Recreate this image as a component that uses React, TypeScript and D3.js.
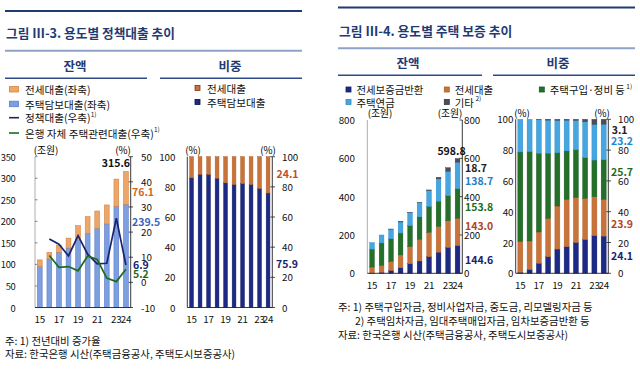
import React from 'react';
import * as d3 from 'd3';

// ---------- data ----------
const years = ['15', '16', '17', '18', '19', '20', '21', '22', '23', '24'];
const tickYears = ['15', '17', '19', '21', '23', '24'];

// 용도별 정책대출 (조원)
const policyMortgage = [95, 113, 128, 138, 157, 172, 184, 194, 235, 239.5]; // 주택담보대출
const policyJeonse = [15.5, 15, 17, 23, 33, 39, 40, 44, 63, 76.1]; // 전세대출
// 증가율 (%)
const policyGrowth: (number | null)[] = [null, 17.3, 15.2, 10.5, 18.6, 11.2, 7.4, 7.6, 25.5, 6.9];
const bankGrowth: (number | null)[] = [null, 10.7, 6.0, 6.3, 4.6, 10.5, 9.1, 1.7, 0.3, 5.2];

// 용도별 주택 보증 (조원)
const guarReturn = [1, 5, 15, 29, 50, 64, 87, 110, 135, 144.6]; // 전세보증금반환
const guarJeonse = [32, 37, 47, 67, 89, 114, 127, 134, 139, 143.0]; // 전세대출
const guarPurchase = [93, 116, 118, 114, 110, 116, 135, 132, 131, 153.8]; // 주택구입·정비 등
const guarPension = [34, 42, 50.5, 58, 67, 74, 83, 117, 128, 138.7]; // 주택연금
const guarOther = [0, 0, 0.5, 1.4, 2, 2, 3, 8, 18, 18.7]; // 기타

const leftAxisTicks = [0, 50, 100, 150, 200, 250, 300, 350];
const growthTicks = [-10, 0, 10, 20, 30, 40, 50];
const pctTicks = [0, 20, 40, 60, 80, 100];
const guarTicks = [0, 200, 400, 600, 800];

// ---------- styles ----------
const FONT = "'Noto Sans CJK KR', 'Noto Sans', sans-serif";
const NAVY_T = '#1F3B73';
const C = {
  lBlue: '#7D9FE0', lBlueS: '#5A7ECB',
  lOrange: '#EDA66A', lOrangeS: '#D8843F',
  navy: '#1C2A85', navyS: '#141E66',
  brown: '#C8733A', brownS: '#B05E28',
  green: '#24702A', greenS: '#1A5A1F',
  sky: '#45A6E0', skyS: '#2C8BC8',
  gray: '#4D4D58', grayS: '#383842',
  lineNavy: '#1A2370', lineGreen: '#1E6B1E',
};
const TICK_FS = 9.8;

type Row = { [k: string]: number | string };

function Ticks({ scale, ticks, x, anchor, fs = TICK_FS, ls = 0 }: any) {
  return (
    <g>
      {ticks.map((t: number) => (
        <text key={t} x={x} y={scale(t)} textAnchor={anchor} dominantBaseline="central" fontSize={fs} letterSpacing={ls} fill="#111">
          {t}
        </text>
      ))}
    </g>
  );
}

function XLabels({ xs, y }: any) {
  return (
    <g>
      {tickYears.map((t) => (
        <text key={t} x={(xs(t) as number) + xs.bandwidth() / 2} y={y} textAnchor="middle" dominantBaseline="central" fontSize={TICK_FS} letterSpacing={-0.2} fill="#111">
          {t}
        </text>
      ))}
    </g>
  );
}

export default function App() {
  // ---- Left panel, chart 1 ----
  const l1x = d3.scaleBand().domain(years).range([35, 130.7]).paddingInner(0.5).paddingOuter(0.25);
  const l1y = d3.scaleLinear().domain([0, 350]).range([307.5, 156.7]);
  const l1y2 = d3.scaleLinear().domain([-10, 50]).range([307.5, 156.7]);
  const polRows: Row[] = years.map((y, i) => ({ year: y, mortgage: policyMortgage[i], jeonse: policyJeonse[i] }));
  const polStack = d3.stack<Row>().keys(['mortgage', 'jeonse'])(polRows as any);
  const polStackPct = d3.stack<Row>().keys(['mortgage', 'jeonse']).offset(d3.stackOffsetExpand)(polRows as any);
  const cx1 = (y: string) => (l1x(y) as number) + l1x.bandwidth() / 2;
  const lineGen = d3
    .line<number | null>()
    .defined((d) => d != null)
    .x((_, i) => cx1(years[i]))
    .y((d) => l1y2(d as number));

  // ---- Left panel, chart 2 ----
  const l2x = d3.scaleBand().domain(years).range([187.3, 272.3]).paddingInner(0.56).paddingOuter(0.28);
  const l2y = d3.scaleLinear().domain([0, 100]).range([307.5, 156.7]);

  // ---- Right panel ----
  const gKeys = ['ret', 'jeonse', 'purchase', 'pension', 'other'];
  const gRows: Row[] = years.map((y, i) => ({
    year: y,
    ret: guarReturn[i],
    jeonse: guarJeonse[i],
    purchase: guarPurchase[i],
    pension: guarPension[i],
    other: guarOther[i],
  }));
  const gStack = d3.stack<Row>().keys(gKeys)(gRows as any);
  const gStackPct = d3.stack<Row>().keys(gKeys).offset(d3.stackOffsetExpand)(gRows as any);
  const gFill = [C.navy, C.brown, C.green, C.sky, C.gray];
  const gStroke = [C.navyS, C.brownS, C.greenS, C.skyS, C.grayS];
  const r1x = d3.scaleBand().domain(years).range([367.3, 462.3]).paddingInner(0.5).paddingOuter(0.25);
  const r1y = d3.scaleLinear().domain([0, 800]).range([273.3, 120]);
  const r2x = d3.scaleBand().domain(years).range([515.7, 608.3]).paddingInner(0.46).paddingOuter(0.23);
  const r2y = d3.scaleLinear().domain([0, 100]).range([273.3, 119.3]);

  const n = years.length - 1;
  const polTotal = policyMortgage[n] + policyJeonse[n];
  const gTotal = guarReturn[n] + guarJeonse[n] + guarPurchase[n] + guarPension[n] + guarOther[n];
  const pct = (v: number, t: number) => ((v / t) * 100).toFixed(1);

  const lbl = (x: number, y: number, txt: string, color: string, anchor = 'start') => (
    <text x={x} y={y} textAnchor={anchor} dominantBaseline="central" fontSize={10.5} fontWeight={700} fill={color}>
      {txt}
    </text>
  );

  return (
    <svg width={640} height={378} style={{ position: 'absolute', left: 0, top: 0, background: '#fff' }} fontFamily={FONT}>
      <rect width={640} height={378} fill="#fff" />
      {/* ===== Left title ===== */}
      <line x1={5} x2={302} y1={11} y2={11} stroke={NAVY_T} strokeWidth={2.2} />
      <text x={6} y={32} dominantBaseline="central" fontSize={12.7} fontWeight={700} fill={NAVY_T}>
        그림 Ⅲ-3. 용도별 정책대출 추이
      </text>
      <line x1={5} x2={302} y1={50.8} y2={50.8} stroke="#8EA2CA" strokeWidth={2} />
      <text x={75} y={65} textAnchor="middle" dominantBaseline="central" fontSize={12.5} fontWeight={700} fill={NAVY_T}>잔액</text>
      <text x={230} y={65} textAnchor="middle" dominantBaseline="central" fontSize={12.5} fontWeight={700} fill={NAVY_T}>비중</text>
      <line x1={5} x2={147} y1={78.3} y2={78.3} stroke="#2F4A8A" strokeWidth={1.4} />
      <line x1={160} x2={302} y1={78.3} y2={78.3} stroke="#2F4A8A" strokeWidth={1.4} />

      {/* Left legends */}
      <g fontSize={10.6} fill="#111">
        <rect x={9.5} y={86.5} width={9} height={5.5} fill={C.lOrange} stroke={C.lOrangeS} strokeWidth={0.8} />
        <text x={25} y={89.3} dominantBaseline="central">전세대출(좌축)</text>
        <rect x={9.5} y={101.2} width={9} height={5.5} fill={C.lBlue} stroke={C.lBlueS} strokeWidth={0.8} />
        <text x={25} y={104} dominantBaseline="central">주택담보대출(좌축)</text>
        <line x1={9} x2={19} y1={117.7} y2={117.7} stroke={C.lineNavy} strokeWidth={1.6} />
        <text x={25} y={117.7} dominantBaseline="central">
          정책대출(우축)<tspan fontSize={6.5} dy={-4}>1)</tspan>
        </text>
        <line x1={9} x2={19} y1={133} y2={133} stroke={C.lineGreen} strokeWidth={1.6} />
        <text x={25} y={133} dominantBaseline="central">
          은행 자체 주택관련대출(우축)<tspan fontSize={6.5} dy={-4}>1)</tspan>
        </text>
        <rect x={195} y={85.5} width={5} height={5} fill={C.brown} stroke="#7A3A12" strokeWidth={0.8} />
        <text x={207} y={88} dominantBaseline="central">전세대출</text>
        <rect x={195} y={99.5} width={5} height={5} fill={C.navy} stroke="#0B1045" strokeWidth={0.8} />
        <text x={207} y={102} dominantBaseline="central">주택담보대출</text>
      </g>

      {/* Left chart 1 */}
      <text x={46} y={150} textAnchor="middle" dominantBaseline="central" fontSize={TICK_FS}>(조원)</text>
      <text x={123} y={150} textAnchor="middle" dominantBaseline="central" fontSize={TICK_FS}>(%)</text>
      <Ticks scale={l1y} ticks={leftAxisTicks} x={15.5} anchor="end" fs={9.4} ls={-0.3} />
      <Ticks scale={l1y2} ticks={growthTicks} x={141} anchor="start" />
      <line x1={35} x2={35} y1={156.7} y2={307.5} stroke="#999" strokeWidth={0.8} />
      {leftAxisTicks.map((t) => (
        <line key={t} x1={35} x2={37.5} y1={l1y(t)} y2={l1y(t)} stroke="#666" strokeWidth={0.8} />
      ))}
      {polStack.map((s, si) => (
        <g key={si}>
          {s.map((d: any, i: number) => (
            <rect
              key={i}
              x={l1x(years[i])}
              width={l1x.bandwidth()}
              y={l1y(d[1])}
              height={l1y(d[0]) - l1y(d[1])}
              fill={si === 0 ? C.lBlue : C.lOrange}
              stroke={si === 0 ? C.lBlueS : C.lOrangeS}
              strokeWidth={0.6}
            />
          ))}
        </g>
      ))}
      <line x1={130.7} x2={130.7} y1={156.7} y2={307.5} stroke="#222" strokeWidth={0.9} />
      {growthTicks.map((t) => (
        <line key={t} x1={128.7} x2={133} y1={l1y2(t)} y2={l1y2(t)} stroke="#222" strokeWidth={0.8} />
      ))}
      <line x1={35} x2={130.7} y1={307.5} y2={307.5} stroke="#222" strokeWidth={0.9} />
      <path d={lineGen(policyGrowth) || ''} fill="none" stroke={C.lineNavy} strokeWidth={1.7} />
      <path d={lineGen(bankGrowth) || ''} fill="none" stroke={C.lineGreen} strokeWidth={1.7} />
      <XLabels xs={l1x} y={319} />
      {lbl(cx1('24') - 10, 162, polTotal.toFixed(1), '#111', 'middle')}
      {lbl(132, 191.7, policyJeonse[n].toFixed(1), '#D2691E')}
      {lbl(132, 221, policyMortgage[n].toFixed(1), '#3D63C0')}
      {lbl(133, 264, (policyGrowth[n] as number).toFixed(1), C.lineNavy)}
      {lbl(133, 273.5, (bankGrowth[n] as number).toFixed(1), C.lineGreen)}

      {/* Left chart 2 */}
      <text x={193} y={150} textAnchor="middle" dominantBaseline="central" fontSize={TICK_FS}>(%)</text>
      <text x={268} y={150} textAnchor="middle" dominantBaseline="central" fontSize={TICK_FS}>(%)</text>
      <Ticks scale={l2y} ticks={pctTicks} x={175.5} anchor="end" />
      <Ticks scale={l2y} ticks={pctTicks} x={282} anchor="start" />
      {polStackPct.map((s, si) => (
        <g key={si}>
          {s.map((d: any, i: number) => (
            <rect
              key={i}
              x={l2x(years[i])}
              width={l2x.bandwidth()}
              y={l2y(d[1] * 100)}
              height={l2y(d[0] * 100) - l2y(d[1] * 100)}
              fill={si === 0 ? C.navy : C.brown}
              stroke={si === 0 ? C.navyS : C.brownS}
              strokeWidth={0.5}
            />
          ))}
        </g>
      ))}
      <line x1={187.3} x2={187.3} y1={156.7} y2={307.5} stroke="#222" strokeWidth={0.9} />
      <line x1={272.3} x2={272.3} y1={156.7} y2={307.5} stroke="#222" strokeWidth={0.9} />
      {pctTicks.map((t) => (
        <line key={t} x1={270.3} x2={275} y1={l2y(t)} y2={l2y(t)} stroke="#222" strokeWidth={0.8} />
      ))}
      <line x1={187.3} x2={272.3} y1={307.5} y2={307.5} stroke="#222" strokeWidth={0.9} />
      <XLabels xs={l2x} y={318.5} />
      {lbl(276.5, 173.3, pct(policyJeonse[n], polTotal), '#C0502A')}
      {lbl(276, 263.3, pct(policyMortgage[n], polTotal), C.lineNavy)}

      {/* Left footnotes */}
      <g fontSize={10.4} fill="#111">
        <text x={5} y={340} dominantBaseline="central">주: 1) 전년대비 증가율</text>
        <text x={5} y={353} dominantBaseline="central">자료: 한국은행 시산(주택금융공사, 주택도시보증공사)</text>
      </g>

      {/* ===== Right title ===== */}
      <line x1={338} x2={635} y1={7.5} y2={7.5} stroke={NAVY_T} strokeWidth={2.2} />
      <text x={339} y={30} dominantBaseline="central" fontSize={12.8} fontWeight={700} fill={NAVY_T}>
        그림 Ⅲ-4. 용도별 주택 보증 추이
      </text>
      <line x1={338} x2={635} y1={48.3} y2={48.3} stroke="#8EA2CA" strokeWidth={2} />
      <text x={408} y={62} textAnchor="middle" dominantBaseline="central" fontSize={12.5} fontWeight={700} fill={NAVY_T}>잔액</text>
      <text x={558} y={62} textAnchor="middle" dominantBaseline="central" fontSize={12.5} fontWeight={700} fill={NAVY_T}>비중</text>
      <line x1={338} x2={482} y1={75.3} y2={75.3} stroke="#2F4A8A" strokeWidth={1.4} />
      <line x1={493} x2={635} y1={75.3} y2={75.3} stroke="#2F4A8A" strokeWidth={1.4} />

      {/* Right legend */}
      <g fontSize={10.4} fill="#111">
        {[
          { x: 346, y: 89.5, c: 0, t: '전세보증금반환' },
          { x: 444.3, y: 89.5, c: 1, t: '전세대출' },
          { x: 539.3, y: 89.5, c: 2, t: '주택구입·정비 등', sup: '1)' },
          { x: 346, y: 102, c: 3, t: '주택연금' },
          { x: 444.3, y: 102, c: 4, t: '기타', sup: '2)' },
        ].map((it, k) => (
          <g key={k}>
            <rect x={it.x} y={it.y - 2.5} width={5} height={5} fill={gFill[it.c]} stroke={gStroke[it.c]} strokeWidth={0.8} />
            <text x={it.x + 10.5} y={it.y} dominantBaseline="central">
              {it.t}
              {it.sup ? <tspan fontSize={6.5} dy={-4}>{' ' + it.sup}</tspan> : null}
            </text>
          </g>
        ))}
      </g>

      {/* Right chart 1 */}
      <text x={380} y={113} textAnchor="middle" dominantBaseline="central" fontSize={TICK_FS}>(조원)</text>
      <text x={450} y={113} textAnchor="middle" dominantBaseline="central" fontSize={TICK_FS}>(조원)</text>
      <Ticks scale={r1y} ticks={guarTicks} x={355} anchor="end" />
      <Ticks scale={r1y} ticks={guarTicks} x={464} anchor="start" />
      <line x1={367.3} x2={367.3} y1={120} y2={273.3} stroke="#999" strokeWidth={0.8} />
      {gStack.map((s, si) => (
        <g key={si}>
          {s.map((d: any, i: number) => (
            <rect
              key={i}
              x={r1x(years[i])}
              width={r1x.bandwidth()}
              y={r1y(d[1])}
              height={Math.max(0, r1y(d[0]) - r1y(d[1]))}
              fill={gFill[si]}
              stroke={gStroke[si]}
              strokeWidth={0.4}
            />
          ))}
        </g>
      ))}
      <line x1={462.3} x2={462.3} y1={120} y2={273.3} stroke="#222" strokeWidth={0.9} />
      {guarTicks.map((t) => (
        <line key={t} x1={459.5} x2={462.3} y1={r1y(t)} y2={r1y(t)} stroke="#222" strokeWidth={0.8} />
      ))}
      <line x1={367.3} x2={462.3} y1={273.3} y2={273.3} stroke="#222" strokeWidth={0.9} />
      <XLabels xs={r1x} y={285} />
      {lbl(451.5, 150.7, gTotal.toFixed(1), '#111', 'middle')}
      {lbl(465, 167.3, guarOther[n].toFixed(1), '#222')}
      {lbl(465, 180.7, guarPension[n].toFixed(1), '#1F7FC4')}
      {lbl(465, 206.7, guarPurchase[n].toFixed(1), C.lineGreen)}
      {lbl(465, 225, guarJeonse[n].toFixed(1), '#B0461E')}
      {lbl(465, 259.3, guarReturn[n].toFixed(1), C.lineNavy)}

      {/* Right chart 2 */}
      <text x={522} y={113.3} textAnchor="middle" dominantBaseline="central" fontSize={TICK_FS}>(%)</text>
      <text x={602} y={113.3} textAnchor="middle" dominantBaseline="central" fontSize={TICK_FS}>(%)</text>
      <Ticks scale={r2y} ticks={pctTicks} x={513.5} anchor="end" />
      <Ticks scale={r2y} ticks={pctTicks} x={618} anchor="start" />
      {gStackPct.map((s, si) => (
        <g key={si}>
          {s.map((d: any, i: number) => (
            <rect
              key={i}
              x={r2x(years[i])}
              width={r2x.bandwidth()}
              y={r2y(d[1] * 100)}
              height={Math.max(0, r2y(d[0] * 100) - r2y(d[1] * 100))}
              fill={gFill[si]}
              stroke={gStroke[si]}
              strokeWidth={0.4}
            />
          ))}
        </g>
      ))}
      <line x1={515.7} x2={515.7} y1={119.3} y2={273.3} stroke="#222" strokeWidth={0.9} />
      <line x1={608.3} x2={608.3} y1={119.3} y2={273.3} stroke="#222" strokeWidth={0.9} />
      {pctTicks.map((t) => (
        <line key={t} x1={606.3} x2={611} y1={r2y(t)} y2={r2y(t)} stroke="#222" strokeWidth={0.8} />
      ))}
      <line x1={515.7} x2={608.3} y1={273.3} y2={273.3} stroke="#222" strokeWidth={0.9} />
      <XLabels xs={r2x} y={285} />
      {lbl(611.7, 129, pct(guarOther[n], gTotal), '#222')}
      {lbl(611, 140, pct(guarPension[n], gTotal), '#1F8AD0')}
      {lbl(611, 171.7, pct(guarPurchase[n], gTotal), C.lineGreen)}
      {lbl(611, 223.3, pct(guarJeonse[n], gTotal), '#B0461E')}
      {lbl(611, 255, pct(guarReturn[n], gTotal), C.lineNavy)}

      {/* Right footnotes */}
      <g fontSize={10.4} fill="#111">
        <text x={338} y={306.7} dominantBaseline="central">주: 1) 주택구입자금, 정비사업자금, 중도금, 리모델링자금 등</text>
        <text x={355} y={320.7} dominantBaseline="central">2) 주택임차자금, 임대주택매입자금, 임차보증금반환 등</text>
        <text x={338} y={334.5} dominantBaseline="central">자료: 한국은행 시산(주택금융공사, 주택도시보증공사)</text>
      </g>
    </svg>
  );
}
